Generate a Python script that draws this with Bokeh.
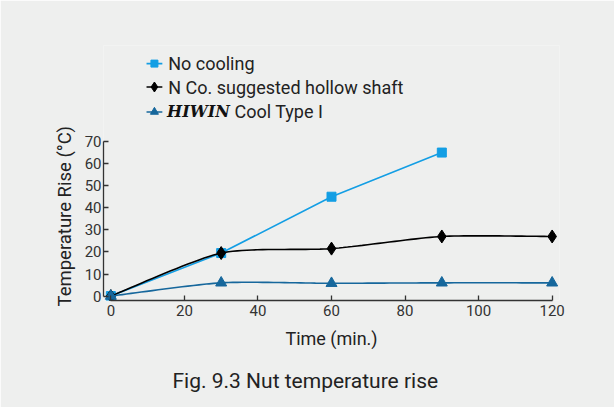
import numpy as np
from bokeh.plotting import figure
from bokeh.models import Range1d, FixedTicker, Label, Title
from bokeh.embed import file_html
from bokeh.resources import INLINE

# ---- data ----
time_no_cooling = [0, 30, 60, 90]
temp_no_cooling = [0, 19.5, 45, 65]
time_hollow = [0, 30, 60, 90, 120]
temp_hollow = [0, 19.5, 21.5, 27, 27]
time_hiwin = [0, 30, 60, 90, 120]
temp_hiwin = [0, 6, 5.8, 6, 6]
x_ticks = [0, 20, 40, 60, 80, 100, 120]
y_ticks = [0, 10, 20, 30, 40, 50, 60, 70]

BG = "#eeefee"
C_BLUE = "#139ee4"
C_BLACK = "#000000"
C_DARK = "#16679c"
FONT = "Roboto"


def smooth(xs, ys, n=24, k=0.35):
    """Cardinal spline through the given points (drawing only)."""
    x = np.asarray(xs, float)
    y = np.asarray(ys, float)
    px = np.concatenate([[x[0]], x, [x[-1]]])
    py = np.concatenate([[y[0]], y, [y[-1]]])
    ox, oy = [], []
    t = np.linspace(0, 1, n)
    h00 = 2 * t ** 3 - 3 * t ** 2 + 1
    h10 = t ** 3 - 2 * t ** 2 + t
    h01 = -2 * t ** 3 + 3 * t ** 2
    h11 = t ** 3 - t ** 2
    for i in range(1, len(px) - 2):
        for arr, out in ((px, ox), (py, oy)):
            p0, p1, p2, p3 = arr[i - 1], arr[i], arr[i + 1], arr[i + 2]
            m1 = k * (p2 - p0)
            m2 = k * (p3 - p1)
            out.extend(h00 * p1 + h10 * m1 + h01 * p2 + h11 * m2)
    return ox, oy


p = figure(width=614, height=407, output_backend="svg", toolbar_location=None,
           x_range=Range1d(-2, 122), y_range=Range1d(-2, 113.5),
           min_border_left=103, min_border_right=55, min_border_top=45,
           min_border_bottom=106)
p.background_fill_color = BG
p.border_fill_color = BG
p.outline_line_color = None
p.grid.visible = False

for ax in (p.xaxis[0], p.yaxis[0]):
    ax.major_tick_in = 5
    ax.major_tick_out = 0
    ax.minor_tick_line_color = None
    ax.axis_line_color = "#333333"
    ax.major_tick_line_color = "#333333"
    ax.major_label_text_color = "#333333"
    ax.major_label_text_font = FONT
    ax.major_label_text_font_size = "15px"
    ax.axis_line_width = 1.3
    ax.major_tick_line_width = 1.3

p.xaxis.ticker = FixedTicker(ticks=x_ticks)
p.yaxis.ticker = FixedTicker(ticks=y_ticks)
p.xaxis.bounds = (0, 120)
p.yaxis.bounds = (0, 70)
p.xaxis.major_label_standoff = 4
p.yaxis.major_label_standoff = 2
p.xaxis.axis_label = "Time (min.)"
p.xaxis.axis_label_text_font = FONT
p.xaxis.axis_label_text_font_style = "normal"
p.xaxis.axis_label_text_font_size = "18px"
p.xaxis.axis_label_text_color = "#222222"
p.xaxis.axis_label_standoff = 9

# series
p.line(time_no_cooling, temp_no_cooling, line_color=C_BLUE, line_width=1.6)
p.scatter(time_no_cooling, temp_no_cooling, marker="square", size=9,
          fill_color=C_BLUE, line_color=C_BLUE)

hx, hy = smooth(time_hollow, temp_hollow)
p.line(hx, hy, line_color=C_BLACK, line_width=1.6)
p.scatter(time_hollow, temp_hollow, marker="diamond", size=13,
          fill_color=C_BLACK, line_color=C_BLACK)

wx, wy = smooth(time_hiwin, temp_hiwin)
p.line(wx, wy, line_color=C_DARK, line_width=1.6)
p.scatter(time_hiwin, temp_hiwin, marker="triangle", size=11,
          fill_color=C_DARK, line_color=C_DARK)

# legend (manual, to allow the styled HIWIN word)
leg_rows = [105.3, 94.7, 83.4]
leg_styles = [(C_BLUE, "square", 7), (C_BLACK, "diamond", 10), (C_DARK, "triangle", 8)]
for ry, (c, m, s) in zip(leg_rows, leg_styles):
    p.line([9.7, 14.0], [ry, ry], line_color=c, line_width=1.6)
    p.scatter([11.85], [ry], marker=m, size=s, fill_color=c, line_color=c)

leg_font = dict(text_font=FONT, text_font_size="18px", text_color="#222222",
                text_baseline="middle")
p.add_layout(Label(x=15.6, y=leg_rows[0], text="No cooling", **leg_font))
p.add_layout(Label(x=15.6, y=leg_rows[1], text="N Co. suggested hollow shaft", **leg_font))
p.add_layout(Label(x=15.3, y=leg_rows[2], text="HIWIN", text_font="DejaVu Serif",
                   text_font_style="bold italic", text_font_size="16px",
                   text_color="#111111", text_baseline="middle"))
p.add_layout(Label(x=33.6, y=leg_rows[2], text="Cool Type I", **leg_font))

# y axis title (as a side title so it is not clipped)
p.add_layout(Title(text="Temperature Rise (°C)", align="left", offset=-6,
                   text_font=FONT, text_font_size="18.5px", text_font_style="normal",
                   text_color="#222222", standoff=11), "left")

# caption
p.add_layout(Title(text="Fig. 9.3 Nut temperature rise", align="left", offset=69,
                   text_font=FONT, text_font_size="21px", text_font_style="normal",
                   text_color="#222222", standoff=30), "below")

open("out.html", "w").write(file_html(p, INLINE))
